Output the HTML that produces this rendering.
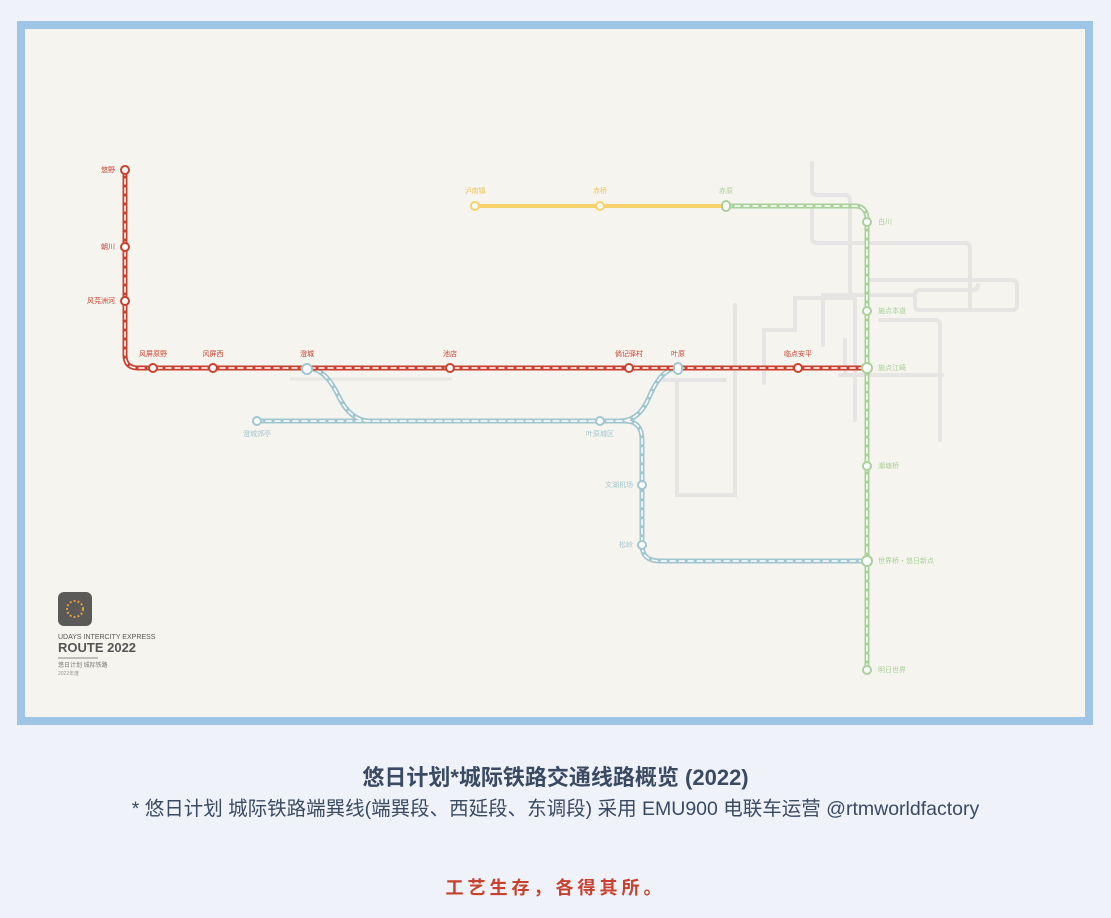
<!DOCTYPE html>
<html><head><meta charset="utf-8"><style>
html,body{margin:0;padding:0;background:#eff2f9;width:1111px;height:918px;overflow:hidden;font-family:"Liberation Sans","Noto Sans CJK SC",sans-serif}
.t{position:absolute;left:0;width:1111px;text-align:center}
</style></head><body>
<svg width="1111" height="918" style="position:absolute;left:0;top:0" font-family="Liberation Sans, Noto Sans CJK SC, sans-serif">
<rect x="21" y="25" width="1068" height="696" fill="#f6f4ee" stroke="#9ec5e6" stroke-width="8"/>
<g fill="none" stroke="#e6e5e4" stroke-width="4" stroke-linecap="round">
<path d="M812 163 V190 Q812 195 818 195 H845 Q850 195 850 200 V290 Q850 295 855 295 H900"/>
<path d="M812 210 V238 Q812 243 818 243 H965 Q970 243 970 248 V310 H1000"/>
<path d="M735 310 V370 M764 383 V330 H795 V298 H855 V420"/>
<path d="M823 345 V295 H870 Q880 295 890 295 H915"/>
<path d="M870 280 H1012 Q1017 280 1017 285 V305 Q1017 310 1012 310 H920 Q915 310 915 305 V295 Q915 290 920 290 H972 Q978 290 978 285"/>
<path d="M880 320 H935 Q940 320 940 325 V440"/>
<path d="M840 375 H942 M845 375 V340"/>
<path d="M677 380 V495 H735 V305"/>
<path d="M663 380 H725"/>
</g>
<g stroke="#e8e7e2" stroke-width="3"><path d="M290 379 H452"/></g>
<g fill="none" stroke-linecap="round">
<path d="M475 206 H726" stroke="#f7d26a" stroke-width="4"/>
<path d="M726 206 H855 Q867 206 867 220 V670" stroke="#a9d09b" stroke-width="5"/>
<path d="M726 206 H855 Q867 206 867 220 V670" stroke="#fff" stroke-width="1.5" stroke-dasharray="5 4"/>
<path d="M307 368 Q325 368 338 395 Q350 421 370 421 H620 Q640 421 650 395 Q662 368 678 368 M257 421 H625 Q642 421 642 440 V545 Q642 561 660 561 H866" stroke="#a2c6cf" stroke-width="5"/>
<path d="M307 368 Q325 368 338 395 Q350 421 370 421 H620 Q640 421 650 395 Q662 368 678 368 M257 421 H625 Q642 421 642 440 V545 Q642 561 660 561 H866" stroke="#fff" stroke-width="1.5" stroke-dasharray="5 4"/>
<path d="M125 170 V355 Q125 368 138 368 H866" stroke="#c8412f" stroke-width="5"/>
<path d="M125 170 V355 Q125 368 138 368 H866" stroke="#fff" stroke-width="1.5" stroke-dasharray="5 4"/>
</g>
<g fill="#fff" stroke-width="2">
<g stroke="#c8412f"><circle cx="125" cy="170" r="4"/><circle cx="125" cy="247" r="4"/><circle cx="125" cy="301" r="4"/><circle cx="153" cy="368" r="4"/><circle cx="213" cy="368" r="4"/><circle cx="450" cy="368" r="4"/><circle cx="629" cy="368" r="4"/><circle cx="798" cy="368" r="4"/></g>
<g stroke="#f7d26a"><circle cx="475" cy="206" r="4"/><circle cx="600" cy="206" r="4"/></g>
<g stroke="#a9d09b"><rect x="722" y="201" width="8" height="10" rx="4"/><circle cx="867" cy="222" r="4"/><circle cx="867" cy="311" r="4"/><circle cx="867" cy="466" r="4"/><circle cx="867" cy="670" r="4"/><circle cx="867" cy="368" r="5"/><circle cx="867" cy="561" r="5"/></g>
<g stroke="#a2c6cf"><circle cx="307" cy="369" r="5"/><rect x="674" y="363" width="8" height="11" rx="4"/><circle cx="257" cy="421" r="4"/><circle cx="600" cy="421" r="4"/><circle cx="642" cy="485" r="4"/><circle cx="642" cy="545" r="4"/></g>
</g>
<g font-size="7" fill="#c8412f" text-anchor="end">
<text x="115" y="172">悠野</text><text x="115" y="249">朝川</text><text x="115" y="303">风芫洲河</text>
</g>
<g font-size="7" fill="#c8412f" text-anchor="middle">
<text x="153" y="356">风屏原野</text><text x="213" y="356">风屏西</text><text x="307" y="356">澄城</text><text x="450" y="356">池店</text><text x="629" y="356">倘记驿村</text><text x="678" y="356">叶原</text><text x="798" y="356">临点安平</text>
</g>
<g font-size="7" fill="#f1c65a" text-anchor="middle"><text x="475" y="193">泸南镇</text><text x="600" y="193">赤桥</text></g>
<text x="726" y="193" font-size="7" fill="#a9d09b" text-anchor="middle">赤原</text>
<g font-size="7" fill="#a9d09b"><text x="878" y="224">白川</text><text x="878" y="313">施点本道</text><text x="878" y="370">施点江崎</text><text x="878" y="468">潮塘桥</text><text x="878" y="563">世界桥・悠日新点</text><text x="878" y="672">明日世界</text></g>
<g font-size="7" fill="#a2c6cf" text-anchor="middle"><text x="257" y="436">澄城郊亭</text><text x="600" y="436">叶原城区</text></g>
<g font-size="7" fill="#a2c6cf" text-anchor="end"><text x="633" y="487">文湖机场</text><text x="633" y="547">松岭</text></g>
<rect x="58" y="592" width="34" height="34" rx="6" fill="#5b5a58"/>
<circle cx="75" cy="609" r="8" fill="none" stroke="#e0a040" stroke-width="2" stroke-dasharray="2 2"/>
<text x="58" y="639" font-size="7" fill="#555">UDAYS INTERCITY EXPRESS</text>
<text x="58" y="652" font-size="13" font-weight="bold" fill="#555">ROUTE 2022</text>
<line x1="58" y1="658" x2="98" y2="658" stroke="#888" stroke-width="1"/>
<text x="58" y="667" font-size="6" fill="#777">悠日计划 城际铁路</text>
<text x="58" y="675" font-size="5" fill="#999">2022年度</text>
</svg>
<div class="t" style="top:760px;font-size:22px;font-weight:bold;color:#3a4a63">悠日计划*城际铁路交通线路概览 (2022)</div>
<div class="t" style="top:792px;font-size:19.5px;color:#3a4a63">* 悠日计划 城际铁路端巽线(端巽段、西延段、东调段) 采用 EMU900 电联车运营 @rtmworldfactory</div>
<div class="t" style="top:874px;font-size:18px;font-weight:bold;color:#c8412f;letter-spacing:4px">工艺生存，各得其所。</div>
</body></html>
